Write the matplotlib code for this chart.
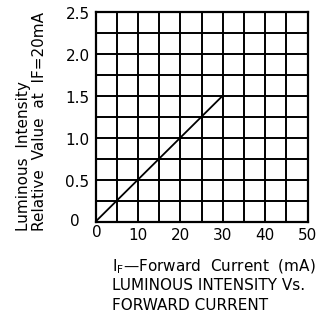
import matplotlib
matplotlib.use("Agg")
import matplotlib.pyplot as plt
from matplotlib.transforms import ScaledTranslation
import numpy as np

plt.rcParams['font.family'] = ['DejaVu Sans']

# data
current = [0, 30]
intensity = [0.0, 1.5]
x_ticks = [10, 20, 30, 40, 50]
x_tick_labels = ["10", "20", "30", "40", "50"]
y_ticks = [0.5, 1.0, 1.5, 2.0, 2.5]
y_tick_labels = ["0.5", "1.0", "1.5", "2.0", "2.5"]

W, H = 323, 317
fig = plt.figure(figsize=(W / 100, H / 100), dpi=100)
L, R, T, B = 95.5, 307.5, 11.7, 221.7
ax = fig.add_axes([L / W, (H - B) / H, (R - L) / W, (B - T) / H])

ax.set_xlim(0, 50)
ax.set_ylim(0, 2.5)
ax.set_xticks(x_ticks)
ax.set_xticklabels(x_tick_labels)
ax.set_xticks(np.arange(0, 50, 5), minor=True)
ax.set_yticks(y_ticks)
ax.set_yticklabels(y_tick_labels)
ax.set_yticks(np.arange(0, 2.5, 0.25), minor=True)
ax.tick_params(which='both', length=0)
ax.tick_params(axis='x', pad=4.5, labelsize=11)
ax.tick_params(axis='y', pad=4.3, labelsize=11)
ax.grid(which='both', color='black', linewidth=1.4)
for s in ax.spines.values():
    s.set_linewidth(1.6)
    s.set_color('black')

off = ScaledTranslation(0, -1 / 100, fig.dpi_scale_trans)
for lab in ax.get_yticklabels():
    lab.set_transform(lab.get_transform() + off)

# zero labels
fig.text(80 / W, 1 - 222 / H, "0", fontsize=11, ha='right', va='center')
fig.text(97 / W, 1 - 232.5 / H, "0", fontsize=11, ha='center', va='center')

ax.plot(current, intensity, color='black', linewidth=1.3)

# y label lines
fig.text(28 / W, 1 - 231 / H, "Luminous  Intensity", rotation=90, rotation_mode='anchor',
         ha='left', va='baseline', fontsize=11)
fig.text(44 / W, 1 - 231 / H, "Relative  Value  at  IF=20mA", rotation=90, rotation_mode='anchor',
         ha='left', va='baseline', fontsize=11)

# x label lines
fig.text(112 / W, 1 - 271 / H, r"I$_\mathregular{F}$—Forward  Current  (mA)", ha='left', va='baseline', fontsize=11)
fig.text(112 / W, 1 - 290 / H, "LUMINOUS INTENSITY Vs.", ha='left', va='baseline', fontsize=11)
fig.text(112 / W, 1 - 310 / H, "FORWARD CURRENT", ha='left', va='baseline', fontsize=11)

fig.savefig("out.png", dpi=100)
